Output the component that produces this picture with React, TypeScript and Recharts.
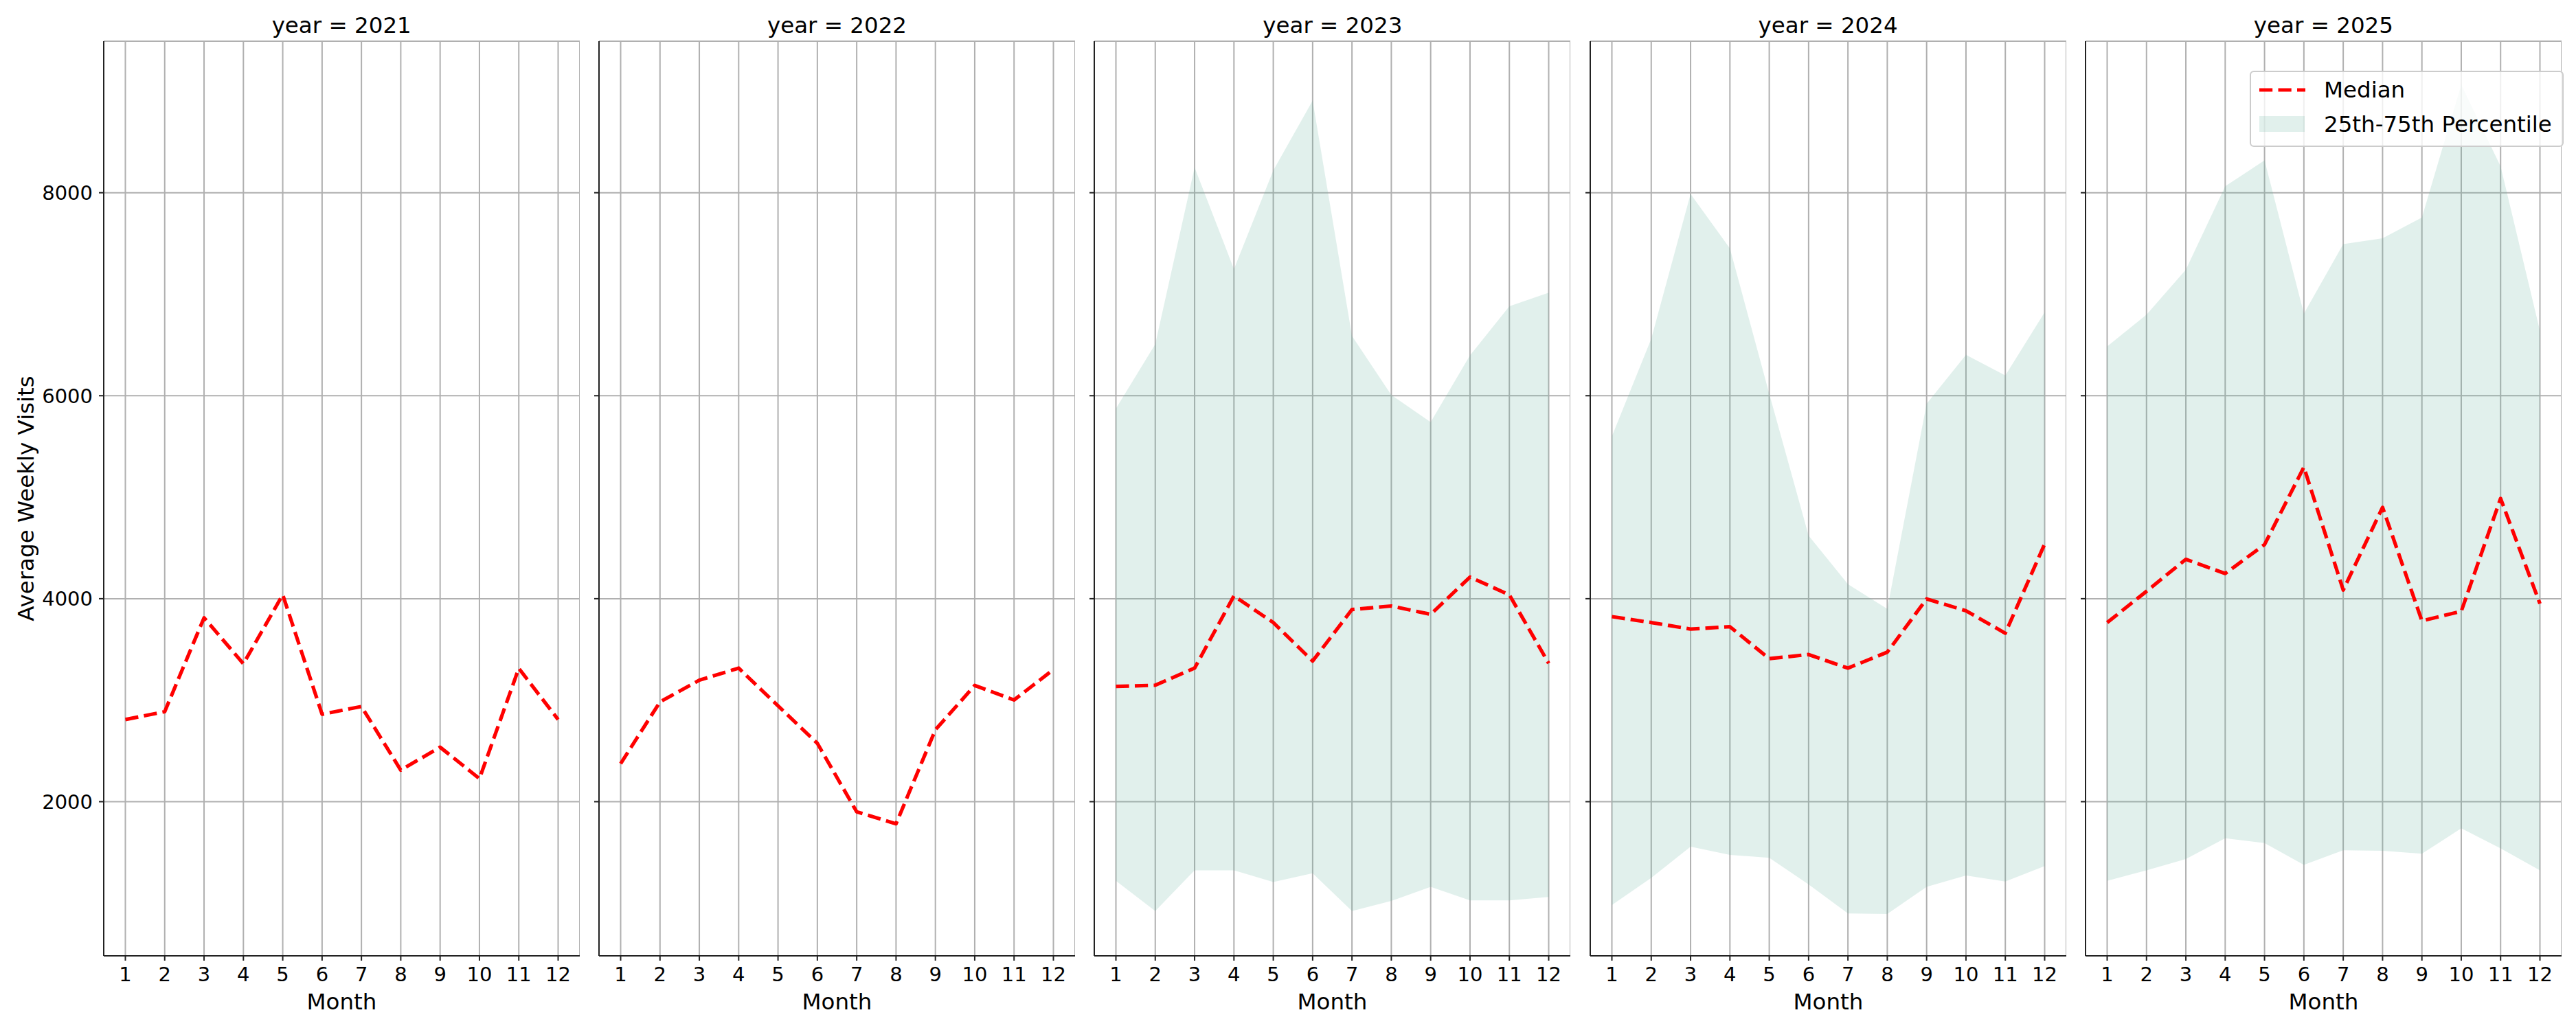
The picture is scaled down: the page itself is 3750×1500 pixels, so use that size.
import React from "react"
import { ComposedChart, Line, Area, XAxis, YAxis, CartesianGrid, Legend } from "recharts"

const years = [2021, 2022, 2023, 2024, 2025]
const months = [1, 2, 3, 4, 5, 6, 7, 8, 9, 10, 11, 12]
const yTicks = [2000, 4000, 6000, 8000]

const median2021 = [2809, 2887, 3812, 3359, 4039, 2861, 2938, 2311, 2537, 2227, 3314, 2809]
const median2022 = [2375, 2983, 3197, 3316, 2945, 2575, 1900, 1782, 2708, 3145, 3002, 3302]

const median2023 = [3136, 3147, 3316, 4027, 3765, 3386, 3893, 3928, 3846, 4213, 4038, 3363]
const upper2023 = [5873, 6508, 8249, 7247, 8220, 8907, 6589, 6007, 5739, 6397, 6881, 7015]
const lower2023 = [1220, 923, 1324, 1324, 1208, 1295, 923, 1022, 1161, 1027, 1027, 1062]

const median2024 = [3823, 3765, 3701, 3724, 3409, 3450, 3316, 3473, 3998, 3881, 3660, 4539]
const upper2024 = [5599, 6560, 7987, 7451, 6019, 4621, 4143, 3899, 5920, 6403, 6199, 6822]
const lower2024 = [981, 1249, 1557, 1476, 1447, 1185, 899, 893, 1161, 1272, 1214, 1365]

const median2025 = [3765, 4073, 4388, 4248, 4533, 5296, 4085, 4900, 3782, 3875, 4988, 3951]
const upper2025 = [6485, 6799, 7242, 8063, 8319, 6809, 7493, 7551, 7756, 9065, 8260, 6640]
const lower2025 = [1220, 1324, 1435, 1639, 1592, 1377, 1522, 1517, 1487, 1738, 1540, 1324]

const medians = [median2021, median2022, median2023, median2024, median2025]
const uppers = [null, null, upper2023, upper2024, upper2025]
const lowers = [null, null, lower2023, lower2024, lower2025]

// layout (page pixels)
const FONT = "'DejaVu Sans', sans-serif"
const PLOT_LEFT0 = 150.7
const PANEL_STEP = 721.3
const PLOT_W = 693
const PLOT_TOP = 60
const PLOT_H = 1332
const X_AXIS_H = 100
const AXIS_COLOR = "#222"
const GRID_COLOR = "#b0b0b0"
const BAND_COLOR = "#69b3a2"
const DASH = "19.2 8.3"

function LegendBox() {
  return (
    <svg width={457} height={111} style={{ display: "block", fontFamily: FONT }}>
      <rect x={1} y={1} width={455} height={109} rx={5} fill="#fff" fillOpacity={0.8} stroke="#cccccc" strokeWidth={2} />
      <line x1={14} x2={81} y1={28} y2={28} stroke="#ff0000" strokeWidth={5.2} strokeDasharray={DASH} />
      <rect x={14} y={66} width={66} height={23} fill={BAND_COLOR} fillOpacity={0.2} />
      <text x={108} y={39} fontSize={32.5} fill="#000">Median</text>
      <text x={108} y={89} fontSize={32.5} fill="#000">25th-75th Percentile</text>
    </svg>
  )
}

function Panel({ idx }: { idx: number }) {
  const med = medians[idx]
  const lo = lowers[idx]
  const hi = uppers[idx]
  const data = months.map((m, k) => ({
    month: m,
    median: med[k],
    band: lo && hi ? [lo[k], hi[k]] : undefined,
  }))
  const yW = idx === 0 ? 150 : 20
  const plotLeft = PLOT_LEFT0 + idx * PANEL_STEP
  const chartLeft = plotLeft - yW
  const last = idx === years.length - 1

  return (
    <div style={{ position: "absolute", left: chartLeft, top: 0 }}>
      <ComposedChart
        width={yW + PLOT_W}
        height={PLOT_TOP + PLOT_H + X_AXIS_H}
        data={data}
        margin={{ top: PLOT_TOP, right: 0, bottom: 0, left: 0 }}
      >
        <CartesianGrid stroke={GRID_COLOR} strokeWidth={2} />
        <XAxis
          dataKey="month"
          type="number"
          domain={[0.45, 12.55]}
          ticks={months}
          interval={0}
          allowDataOverflow
          height={X_AXIS_H}
          tickSize={7}
          tickMargin={9}
          stroke={AXIS_COLOR}
          axisLine={{ stroke: AXIS_COLOR, strokeWidth: 2 }}
          tickLine={{ stroke: AXIS_COLOR, strokeWidth: 2 }}
          tick={{ fontSize: 29, fill: "#000", fontFamily: FONT }}
          label={{ value: "Month", position: "insideBottom", offset: 22, fontSize: 32.5, fill: "#000", fontFamily: FONT }}
        />
        <YAxis
          type="number"
          domain={[481, 9493]}
          ticks={yTicks}
          allowDataOverflow
          width={yW}
          tickSize={7}
          tickMargin={9}
          stroke={AXIS_COLOR}
          axisLine={{ stroke: AXIS_COLOR, strokeWidth: 2 }}
          tickLine={{ stroke: AXIS_COLOR, strokeWidth: 2 }}
          tick={{ fontSize: 29, fill: "#000", fontFamily: FONT }}
          tickFormatter={idx === 0 ? (v: number) => String(v) : () => ""}
        />
        {lo && hi ? (
          <Area
            type="linear"
            dataKey="band"
            stroke="none"
            fill={BAND_COLOR}
            fillOpacity={0.2}
            isAnimationActive={false}
            activeDot={false}
            name="25th-75th Percentile"
          />
        ) : null}
        <Line
          type="linear"
          dataKey="median"
          stroke="#ff0000"
          strokeWidth={5.2}
          strokeDasharray={DASH}
          strokeLinejoin="round"
          dot={false}
          activeDot={false}
          isAnimationActive={false}
          name="Median"
        />
        {last ? (
          <Legend
            layout="horizontal"
            verticalAlign="middle"
            align="center"
            width={457}
            height={111}
            wrapperStyle={{ left: 3275 - chartLeft, top: 103, width: 457, height: 111 }}
            content={() => <LegendBox />}
          />
        ) : null}
      </ComposedChart>
    </div>
  )
}

export default function App() {
  return (
    <div
      style={{
        position: "absolute",
        left: 0,
        top: 0,
        width: 3750,
        height: 1500,
        background: "#fff",
        overflow: "hidden",
        fontFamily: FONT,
      }}
    >
      {years.map((y, i) => (
        <Panel key={y} idx={i} />
      ))}
      <svg width={3750} height={1500} style={{ position: "absolute", left: 0, top: 0, pointerEvents: "none", fontFamily: FONT }}>
        {years.map((y, i) => (
          <text key={y} x={PLOT_LEFT0 + i * PANEL_STEP + PLOT_W / 2} y={48} textAnchor="middle" fontSize={32.5} fill="#000">
            {`year = ${y}`}
          </text>
        ))}
        <text x={49} y={726} transform="rotate(-90 49 726)" textAnchor="middle" fontSize={32.5} fill="#000">
          Average Weekly Visits
        </text>
      </svg>
    </div>
  )
}
